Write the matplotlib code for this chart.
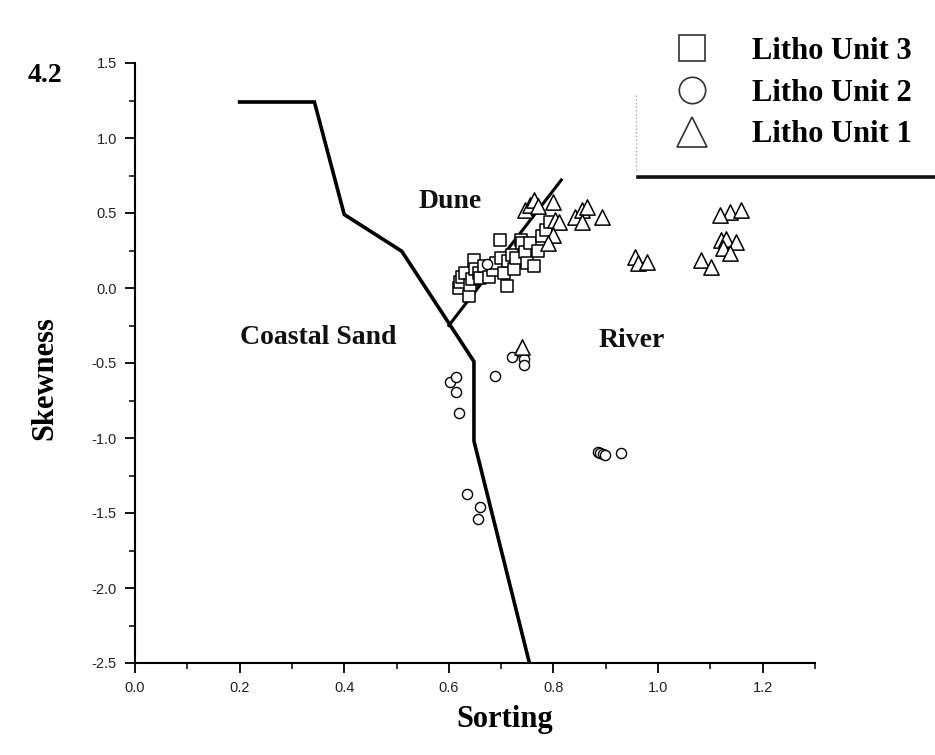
import matplotlib
matplotlib.use('Agg')
import matplotlib.pyplot as plt
from matplotlib.lines import Line2D

# ---------------- data ----------------
# boundary between Coastal Sand / River
boundary_x = [0.20, 0.343, 0.40, 0.51, 0.648, 0.648, 0.754]
boundary_y = [1.24, 1.24, 0.49, 0.245, -0.49, -1.02, -2.50]
# Dune branch
dune_x = [0.60, 0.815]
dune_y = [-0.25, 0.72]

# Litho Unit 3 (squares)
unit3_x = [0.620, 0.622, 0.625, 0.630, 0.638, 0.640, 0.645, 0.648, 0.650, 0.657,
           0.660, 0.668, 0.676, 0.685, 0.690, 0.698, 0.700, 0.705, 0.711, 0.714,
           0.720, 0.725, 0.729, 0.737, 0.740, 0.745, 0.750, 0.755, 0.762, 0.770,
           0.778, 0.785, 0.794]
unit3_y = [0.000, 0.040, 0.076, 0.100, -0.050, 0.020, 0.060, 0.187, 0.130, 0.100,
           0.070, 0.150, 0.076, 0.120, 0.170, 0.320, 0.200, 0.100, 0.013, 0.180,
           0.220, 0.130, 0.200, 0.320, 0.300, 0.240, 0.170, 0.300, 0.147, 0.250,
           0.350, 0.390, 0.440]

# Litho Unit 2 (circles)
unit2_x = [0.721, 0.737, 0.743, 0.743, 0.689, 0.603, 0.613, 0.613, 0.619,
           0.885, 0.889, 0.895, 0.898, 0.929, 0.635, 0.660, 0.655, 0.673]
unit2_y = [-0.458, -0.425, -0.470, -0.513, -0.587, -0.624, -0.591, -0.691, -0.836,
           -1.095, -1.098, -1.105, -1.110, -1.098, -1.375, -1.458, -1.540, 0.160]

# Litho Unit 1 (triangles)
unit1_x = [0.746, 0.756, 0.762, 0.770, 0.800, 0.803, 0.810, 0.800, 0.790,
           0.841, 0.854, 0.864, 0.854, 0.892, 0.956, 0.962, 0.978, 1.083,
           1.102, 1.121, 1.130, 1.149, 1.124, 1.137, 1.137, 1.159, 1.118, 0.740]
unit1_y = [0.520, 0.553, 0.587, 0.550, 0.575, 0.453, 0.440, 0.353, 0.300,
           0.475, 0.520, 0.542, 0.442, 0.475, 0.209, 0.164, 0.176, 0.187,
           0.142, 0.320, 0.330, 0.309, 0.264, 0.231, 0.509, 0.520, 0.490, -0.390]

legend_labels = ['Litho Unit 3', 'Litho Unit 2', 'Litho Unit 1']

xticks = [0.0, 0.2, 0.4, 0.6, 0.8, 1.0, 1.2]
xticklabels = ['0.0', '0.2', '0.4', '0.6', '0.8', '1.0', '1.2']
xminor = [0.1, 0.3, 0.5, 0.7, 0.9, 1.1, 1.3]
yticks = [1.5, 1.0, 0.5, 0.0, -0.5, -1.0, -1.5, -2.0, -2.5]
yticklabels = ['1.5', '1.0', '0.5', '0.0', '-0.5', '-1.0', '-1.5', '-2.0', '-2.5']
yminor = [1.25, 0.75, 0.25, -0.25, -0.75, -1.25, -1.75, -2.25]

# ---------------- figure ----------------
SERIF = ['Liberation Serif', 'DejaVu Serif']
SANS = ['Liberation Sans Narrow', 'Liberation Sans', 'DejaVu Sans']

fig = plt.figure(figsize=(9.35, 7.55), dpi=100)
ax = fig.add_axes([135 / 935, 92 / 755, 680 / 935, 600 / 755])
ax.set_xlim(0, 1.3)
ax.set_ylim(-2.5, 1.5)

ax.plot(boundary_x, boundary_y, color='black', lw=2.6, solid_joinstyle='miter', zorder=2)
ax.plot(dune_x, dune_y, color='black', lw=2.2, zorder=2)

ax.scatter(unit3_x, unit3_y, marker='s', s=8.6 ** 2, facecolors='white',
           edgecolors='black', linewidths=1.1, zorder=3)
ax.scatter(unit2_x, unit2_y, marker='o', s=7.3 ** 2, facecolors='white',
           edgecolors='black', linewidths=1.0, zorder=3)
ax.scatter(unit1_x, unit1_y, marker='^', s=11 ** 2, facecolors='white',
           edgecolors='black', linewidths=1.1, zorder=4)

tf = dict(fontsize=20, fontweight='bold', family=SERIF, color='#111')
ax.text(0.603, 0.575, 'Dune', ha='center', va='center', **tf)
ax.text(0.499, -0.333, 'Coastal Sand', ha='right', va='center', **tf)
ax.text(0.949, -0.347, 'River', ha='center', va='center', **tf)

for s in ['top', 'right']:
    ax.spines[s].set_visible(False)
for s in ['left', 'bottom']:
    ax.spines[s].set_linewidth(1.5)

ax.set_xticks(xticks)
ax.set_xticklabels(xticklabels, family=SANS, fontsize=10.5, color='#222')
ax.set_xticks(xminor, minor=True)
ax.set_yticks(yticks)
ax.set_yticklabels(yticklabels, family=SANS, fontsize=10.5, color='#222')
ax.set_yticks(yminor, minor=True)
ax.tick_params(which='major', direction='out', length=7, width=1.3, pad=6)
ax.tick_params(which='minor', direction='out', length=4, width=1.1)

fig.text(45 / 935, 1 - 378 / 755, 'Skewness', rotation=90, ha='center', va='center',
         fontsize=22, fontweight='bold', family=SERIF)
fig.text(505 / 935, 1 - 720 / 755, 'Sorting', ha='center', va='center',
         fontsize=22, fontweight='bold', family=SERIF)
fig.text(45 / 935, 1 - 75 / 755, '4.2', ha='center', va='center',
         fontsize=20, fontweight='bold', family=SERIF)

# legend
handles = [
    Line2D([], [], marker='s', ls='none', markersize=19, mfc='white', mec='#333', mew=1.2),
    Line2D([], [], marker='o', ls='none', markersize=19, mfc='white', mec='#333', mew=1.2),
    Line2D([], [], marker='^', ls='none', markersize=22, mfc='white', mec='#333', mew=1.2),
]
fig.legend(handles, legend_labels, loc='center left',
           bbox_to_anchor=(669 / 935, 1 - 93 / 755), frameon=False,
           prop=dict(family=SERIF, weight='bold', size=22),
           handlelength=1.5, handletextpad=1.2, labelspacing=0.42,
           borderpad=0, borderaxespad=0)

# legend frame remnants: dotted left edge and thick bottom shadow
fig.add_artist(Line2D([636 / 935, 636 / 935], [1 - 95 / 755, 1 - 172 / 755],
                      transform=fig.transFigure, color='#aaa', lw=1, ls=':'))
fig.add_artist(Line2D([638 / 935, 1.0], [1 - 176.5 / 755, 1 - 176.5 / 755],
                      transform=fig.transFigure, color='#111', lw=2.6))

fig.savefig('out.png', dpi=100)
